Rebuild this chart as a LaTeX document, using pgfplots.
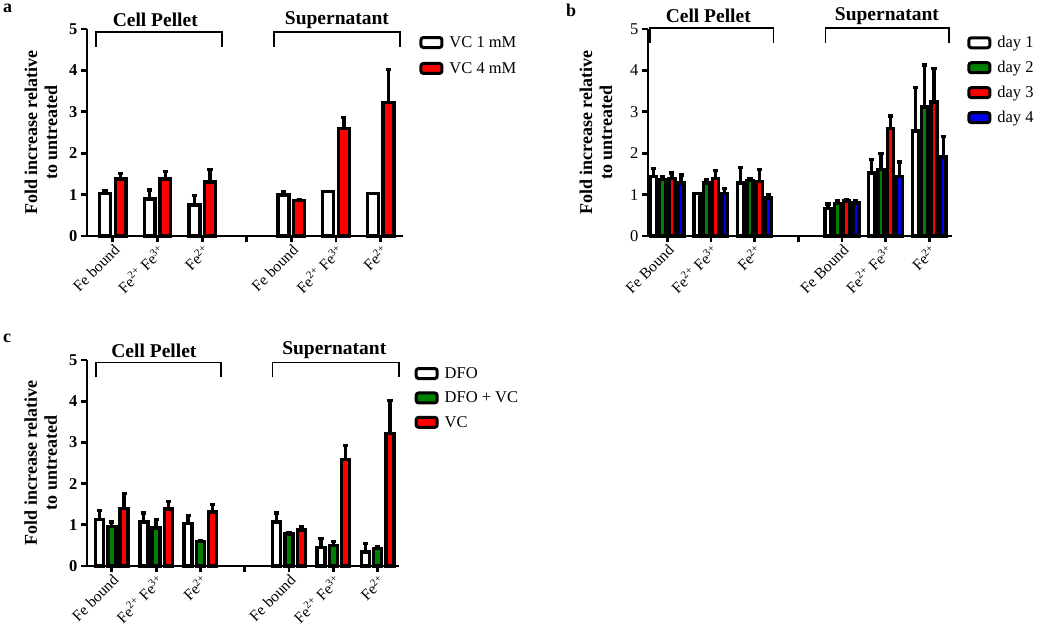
\documentclass[border=0pt]{standalone}
\usepackage{fontspec}
\setmainfont{Liberation Serif}
\usepackage{pgfplots}
\pgfplotsset{compat=1.18}

\definecolor{bred}{RGB}{255,0,0}
\definecolor{bgreen}{RGB}{0,128,0}
\definecolor{bblue}{RGB}{0,0,235}

\newcommand{\ftick}{\fontsize{15.5}{15.5}\selectfont}
\newcommand{\fytick}{\fontsize{16.5}{16.5}\selectfont}
\newcommand{\flab}{\fontsize{18}{20}\selectfont\bfseries}
\newcommand{\fleg}{\fontsize{16.5}{16.5}\selectfont}
\newcommand{\ftitle}{\fontsize{19.5}{20}\selectfont\bfseries}

\pgfplotsset{
  panel/.style={
    scale only axis,
    ymin=0, ymax=5, ytick={0,1,2,3,4,5},
    axis x line*=bottom, axis y line*=left,
    axis line style={line width=2.8pt, black},
    every tick/.style={line width=2.8pt, black},
    major tick length=6pt,
    tick align=outside,
    xtick={0,1,2,3,4,5,6},
    x tick label style={rotate=45, anchor=north east, font=\ftick, inner sep=1pt},
    /pgf/number format/assume math mode=true,
    ybar, clip=false,
    error bars/y dir=plus, error bars/y explicit,
    error bars/error bar style={line width=3.3pt, black, solid},
    error bars/error mark options={rotate=90, mark size=2.6pt, line width=3.3pt, black},
    every axis plot/.append style={draw=black, line width=3.4pt},
    legend image code/.code={\draw[#1, line width=3pt, rounded corners=2.5pt] (0pt,-5pt) rectangle (21pt,5pt);},
    legend cell align=left,
    legend style={draw=none, fill=none, font=\fleg, anchor=north west, row sep=8pt,
      /tikz/every even column/.append style={column sep=6pt},
      nodes={inner xsep=6pt}},
    ylabel={Fold increase relative\\to untreated},
    ylabel style={align=center, font=\flab, anchor=center},
  }
}

\begin{document}
\begin{tikzpicture}
\path[use as bounding box] (0pt,0pt) rectangle (1050pt,625pt);

% panel labels
\node[font=\fontsize{18}{18}\selectfont\bfseries, anchor=north west, inner sep=0pt] at (3pt,621pt) {a};
\node[font=\fontsize{18}{18}\selectfont\bfseries, anchor=north west, inner sep=0pt] at (566pt,621pt) {b};
\node[font=\fontsize{18}{18}\selectfont\bfseries, anchor=north west, inner sep=0pt] at (3pt,291pt) {c};

% ---------------- panel a
\begin{axis}[panel,
  at={(87pt,389pt)}, anchor=south west, width=316pt, height=207pt,
  xmin=-0.58, xmax=6.5,
  bar width=0.245,
  xticklabels={Fe bound, Fe\textsuperscript{2+} Fe\textsuperscript{3+}, Fe\textsuperscript{2+}, , Fe bound, Fe\textsuperscript{2+} Fe\textsuperscript{3+}, Fe\textsuperscript{2+}},
  y tick label style={font=\fytick\bfseries},
  ylabel style={at={(axis description cs:-0.146,0.5)}},
  legend style={at={(1.042,0.985)}, row sep=9.5pt},
]
\addplot[fill=white, bar shift=-0.175] coordinates {
  (0,1.03) +- (0,0.06)
  (1,0.89) +- (0,0.22)
  (2,0.75) +- (0,0.22)
  (4,0.99) +- (0,0.08)
  (5,1.07) +- (0,0.01)
  (6,1.02) +- (0,0.01)
};
\addplot[fill=bred, bar shift=0.175] coordinates {
  (0,1.38) +- (0,0.13)
  (1,1.38) +- (0,0.17)
  (2,1.30) +- (0,0.31)
  (4,0.86) +- (0,0.02)
  (5,2.60) +- (0,0.27)
  (6,3.23) +- (0,0.79)
};
\legend{VC 1 mM, VC 4 mM}
\draw[line width=1.6pt, black] (axis cs:-0.38,4.57) -- (axis cs:-0.38,4.93) -- (axis cs:2.44,4.93) -- (axis cs:2.44,4.57);
\draw[line width=1.6pt, black] (axis cs:3.61,4.57) -- (axis cs:3.61,4.93) -- (axis cs:6.43,4.93) -- (axis cs:6.43,4.57);
\node[font=\ftitle] at (axis cs:0.95,5.22) {Cell Pellet};
\node[font=\ftitle] at (axis cs:5.02,5.22) {Supernatant};
\end{axis}

% ---------------- panel b
\begin{axis}[panel,
  at={(648pt,389pt)}, anchor=south west, width=304pt, height=207pt,
  xmin=-0.44, xmax=6.52,
  bar width=0.137,
  xticklabels={Fe Bound, Fe\textsuperscript{2+} Fe\textsuperscript{3+}, Fe\textsuperscript{2+}, , Fe Bound, Fe\textsuperscript{2+} Fe\textsuperscript{3+}, Fe\textsuperscript{2+}},
  y tick label style={font=\fytick},
  ylabel style={at={(axis description cs:-0.171,0.5)}},
  legend style={at={(1.04,0.985)}},
]
\addplot[fill=white, bar shift=-0.318] coordinates {
  (0,1.43) +- (0,0.20)
  (1,1.02) +- (0,0.01)
  (2,1.28) +- (0,0.37)
  (4,0.66) +- (0,0.11)
  (5,1.52) +- (0,0.33)
  (6,2.54) +- (0,1.04)
};
\addplot[fill=bgreen, bar shift=-0.106] coordinates {
  (0,1.37) +- (0,0.06)
  (1,1.28) +- (0,0.07)
  (2,1.34) +- (0,0.05)
  (4,0.79) +- (0,0.07)
  (5,1.60) +- (0,0.39)
  (6,3.12) +- (0,1.01)
};
\addplot[fill=bred, bar shift=0.106] coordinates {
  (0,1.39) +- (0,0.13)
  (1,1.39) +- (0,0.20)
  (2,1.31) +- (0,0.30)
  (4,0.85) +- (0,0.04)
  (5,2.60) +- (0,0.30)
  (6,3.24) +- (0,0.81)
};
\addplot[fill=bblue, bar shift=0.318] coordinates {
  (0,1.28) +- (0,0.19)
  (1,1.02) +- (0,0.13)
  (2,0.92) +- (0,0.08)
  (4,0.80) +- (0,0.05)
  (5,1.43) +- (0,0.36)
  (6,1.91) +- (0,0.50)
};
\legend{day 1, day 2, day 3, day 4}
\draw[line width=1.6pt, black] (axis cs:-0.39,4.66) -- (axis cs:-0.39,5.02) -- (axis cs:2.43,5.02) -- (axis cs:2.43,4.66);
\draw[line width=1.6pt, black] (axis cs:3.62,4.66) -- (axis cs:3.62,5.02) -- (axis cs:6.45,5.02) -- (axis cs:6.45,4.66);
\node[font=\ftitle] at (axis cs:0.94,5.31) {Cell Pellet};
\node[font=\ftitle] at (axis cs:5.03,5.31) {Supernatant};
\end{axis}

% ---------------- panel c
\begin{axis}[panel,
  at={(87pt,59pt)}, anchor=south west, width=312pt, height=206pt,
  xmin=-0.56, xmax=6.48,
  bar width=0.18,
  xticklabels={Fe bound, Fe\textsuperscript{2+} Fe\textsuperscript{3+}, Fe\textsuperscript{2+}, , Fe bound, Fe\textsuperscript{2+} Fe\textsuperscript{3+}, Fe\textsuperscript{2+}},
  y tick label style={font=\fytick\bfseries},
  ylabel style={at={(axis description cs:-0.148,0.5)}},
  legend style={at={(1.04,0.985)}},
]
\addplot[fill=white, bar shift=-0.278] coordinates {
  (0,1.13) +- (0,0.22)
  (1,1.07) +- (0,0.22)
  (2,1.03) +- (0,0.20)
  (4,1.07) +- (0,0.22)
  (5,0.45) +- (0,0.21)
  (6,0.34) +- (0,0.20)
};
\addplot[fill=bgreen, bar shift=0] coordinates {
  (0,0.96) +- (0,0.11)
  (1,0.92) +- (0,0.21)
  (2,0.60) +- (0,0.01)
  (4,0.78) +- (0,0.02)
  (5,0.50) +- (0,0.10)
  (6,0.42) +- (0,0.04)
};
\addplot[fill=bred, bar shift=0.278] coordinates {
  (0,1.39) +- (0,0.37)
  (1,1.38) +- (0,0.18)
  (2,1.31) +- (0,0.19)
  (4,0.87) +- (0,0.09)
  (5,2.59) +- (0,0.34)
  (6,3.22) +- (0,0.79)
};
\legend{DFO, DFO + VC, VC}
\draw[line width=1.6pt, black] (axis cs:-0.36,4.58) -- (axis cs:-0.36,4.94) -- (axis cs:2.46,4.94) -- (axis cs:2.46,4.58);
\draw[line width=1.6pt, black] (axis cs:3.63,4.58) -- (axis cs:3.63,4.94) -- (axis cs:6.48,4.94) -- (axis cs:6.48,4.58);
\node[font=\ftitle] at (axis cs:0.95,5.23) {Cell Pellet};
\node[font=\ftitle] at (axis cs:5.02,5.23) {Supernatant};
\end{axis}
\end{tikzpicture}
\end{document}
